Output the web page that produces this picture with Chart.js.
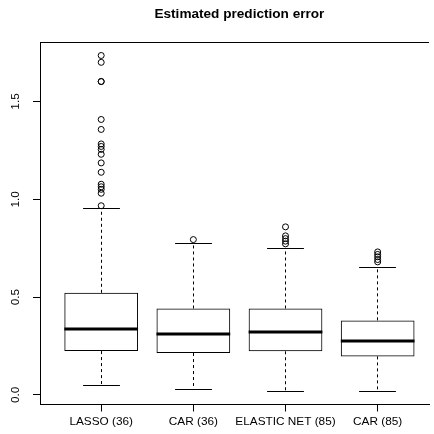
<!DOCTYPE html>
<html lang="en">
<head>
<meta charset="UTF-8">
<title>Estimated prediction error</title>
<script src="https://cdn.jsdelivr.net/npm/chart.js"></script>
<style>
  html, body { margin: 0; padding: 0; background: #fff; overflow: hidden; }
  #wrap { width: 434px; height: 434px; }
</style>
</head>
<body>
<div id="wrap"><canvas id="boxChart" width="434" height="434"></canvas></div>
<script>
// box summaries
const labels = ['LASSO (36)', 'CAR (36)', 'ELASTIC NET (85)', 'CAR (85)'];
const positions = [1, 2, 3, 4];
const lowerWhisker = [0.047, 0.029, 0.019, 0.019];
const q1 = [0.224, 0.214, 0.223, 0.197];
const median = [0.337, 0.313, 0.320, 0.276];
const q3 = [0.522, 0.442, 0.442, 0.381];
const upperWhisker = [0.954, 0.772, 0.748, 0.650];

// outliers per box
const outLasso = [1.735, 1.700, 1.602, 1.602, 1.408, 1.357, 1.283, 1.270, 1.255, 1.230,
                  1.186, 1.138, 1.077, 1.064, 1.051, 1.031, 0.967];
const outCar36 = [0.794];
const outElastic = [0.859, 0.813, 0.799, 0.786, 0.772];
const outCar85 = [0.731, 0.718, 0.706, 0.692, 0.680];

const yTicks = [0, 0.5, 1, 1.5];
const yTickLabels = ['0.0', '0.5', '1.0', '1.5'];

const family = '"Liberation Sans", Arial, Helvetica, sans-serif';
const fontSize = 11.8;

const boxData = positions.map((p, i) => ({ x: p, y: [q1[i], q3[i]] }));
const outlierPoints = [outLasso, outCar36, outElastic, outCar85]
  .flatMap((arr, i) => arr.map(v => ({ x: positions[i], y: v })));

const crisp = v => Math.round(v - 0.5) + 0.5;

// whiskers, staples, medians, top frame, y labels, title
const boxDecor = {
  id: 'boxDecor',
  afterDatasetsDraw(chart) {
    const { ctx, chartArea, scales: { x, y } } = chart;
    const bars = chart.getDatasetMeta(0).data;
    ctx.save();
    ctx.strokeStyle = '#000';
    positions.forEach((p, i) => {
      const half = bars[i].width / 2;
      const cx = crisp(x.getPixelForValue(p));
      ctx.lineWidth = 1;
      ctx.setLineDash([3, 3]);
      ctx.beginPath();
      ctx.moveTo(cx, y.getPixelForValue(q3[i]));
      ctx.lineTo(cx, y.getPixelForValue(upperWhisker[i]));
      ctx.moveTo(cx, y.getPixelForValue(q1[i]));
      ctx.lineTo(cx, y.getPixelForValue(lowerWhisker[i]));
      ctx.stroke();
      ctx.setLineDash([]);
      ctx.beginPath();
      [upperWhisker[i], lowerWhisker[i]].forEach(v => {
        const py = crisp(y.getPixelForValue(v));
        ctx.moveTo(cx - half / 2, py);
        ctx.lineTo(cx + half / 2, py);
      });
      ctx.stroke();
      ctx.lineWidth = 3;
      ctx.beginPath();
      const my = Math.round(y.getPixelForValue(median[i]));
      ctx.moveTo(bars[i].x - half, my);
      ctx.lineTo(bars[i].x + half, my);
      ctx.stroke();
    });

    ctx.lineWidth = 1;
    ctx.beginPath();
    ctx.moveTo(chartArea.left, crisp(chartArea.top));
    ctx.lineTo(chartArea.right, crisp(chartArea.top));
    ctx.stroke();

    ctx.fillStyle = '#000';
    ctx.font = fontSize + 'px ' + family;
    ctx.textAlign = 'center';
    ctx.textBaseline = 'alphabetic';
    yTicks.forEach((v, i) => {
      ctx.save();
      ctx.translate(19, y.getPixelForValue(v));
      ctx.rotate(-Math.PI / 2);
      ctx.fillText(yTickLabels[i], 0, 0);
      ctx.restore();
    });

    ctx.font = 'bold 13.6px ' + family;
    ctx.fillText('Estimated prediction error', x.getPixelForValue(2.5), 17.5);
    ctx.restore();
  }
};

new Chart(document.getElementById('boxChart'), {
  type: 'bar',
  data: {
    datasets: [
      {
        type: 'bar',
        data: boxData,
        backgroundColor: 'rgba(255,255,255,0)',
        borderColor: '#000',
        borderWidth: 1,
        borderSkipped: false,
        barPercentage: 0.8,
        categoryPercentage: 1
      },
      {
        type: 'scatter',
        data: outlierPoints,
        showLine: false,
        pointStyle: 'circle',
        pointRadius: 3,
        pointBorderWidth: 1,
        pointBorderColor: '#000',
        pointBackgroundColor: 'rgba(255,255,255,0)'
      }
    ]
  },
  options: {
    responsive: false,
    animation: false,
    events: [],
    layout: { padding: { top: 42, left: 0, right: 0, bottom: 0 } },
    plugins: {
      legend: { display: false },
      tooltip: { enabled: false },
      title: { display: false }
    },
    scales: {
      x: {
        type: 'linear',
        min: 0.336,
        max: 4.557,
        offset: false,
        afterBuildTicks: s => { s.ticks = positions.map(v => ({ value: v })); },
        afterFit: s => { s.height = 29.5; },
        grid: { drawOnChartArea: false, drawTicks: true, tickLength: 7, color: '#000', offset: false },
        border: { display: true, color: '#000', width: 1 },
        ticks: {
          callback: v => labels[positions.indexOf(v)],
          color: '#000',
          font: { family: family, size: fontSize },
          padding: 3,
          maxRotation: 0,
          autoSkip: false
        }
      },
      y: {
        min: -0.049,
        max: 1.804,
        afterBuildTicks: s => { s.ticks = yTicks.map(v => ({ value: v })); },
        afterFit: s => { s.width = 40; },
        grid: { drawOnChartArea: false, drawTicks: true, tickLength: 7, color: '#000' },
        border: { display: true, color: '#000', width: 1 },
        ticks: { display: false }
      }
    }
  },
  plugins: [boxDecor]
});
</script>
</body>
</html>
